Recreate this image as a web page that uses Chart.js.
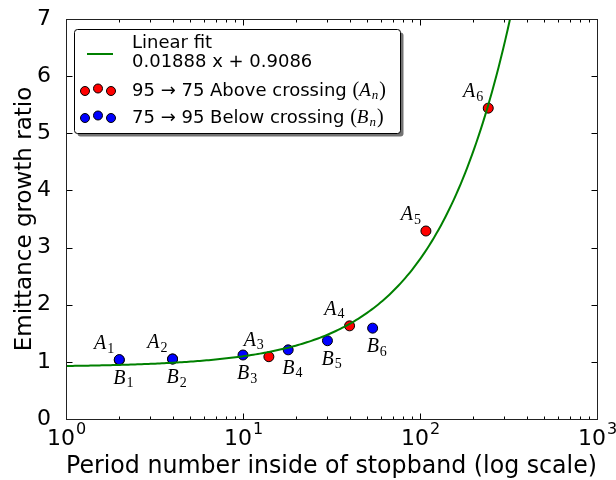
<!DOCTYPE html>
<html>
<head>
<meta charset="utf-8">
<script src="https://cdn.jsdelivr.net/npm/chart.js@4.4.1/dist/chart.umd.min.js"></script>
<style>
  html, body { margin: 0; padding: 0; background: #fff; }
</style>
</head>
<body>
<canvas id="myChart" width="616" height="480"></canvas>
<script>
// 95 -> 75, above crossing (A_n)
const aPeriods = [2, 4, 14, 40, 108, 243];
const aGrowth = [1.03, 1.05, 1.09, 1.63, 3.29, 5.44];
// 75 -> 95, below crossing (B_n)
const bPeriods = [2, 4, 10, 18, 30, 54];
const bGrowth = [1.04, 1.05, 1.12, 1.21, 1.37, 1.59];
// linear fit, as printed in the legend
const fitSlope = 0.01888;
const fitIntercept = 0.9086;
const xTickValues = [1, 10, 100, 1000];
const xTickExponents = ["0", "1", "2", "3"];
const yMin = 0;
const yMax = 7;

// evaluate the fit along the log axis so it bends like the original
const fitLine = [];
for (let i = 0; i <= 200; i++) {
  const x = Math.pow(10, (i / 200) * 2.52);
  fitLine.push({ x, y: fitSlope * x + fitIntercept });
}

const SANS = "'DejaVu Sans', sans-serif";
const SERIF = "'Liberation Serif', 'DejaVu Serif', serif";

// letter with a numeric/italic subscript, mathtext style
function drawSub(ctx, letter, sub, x, y, size, subItalic) {
  ctx.font = "italic " + size + "px " + SERIF;
  const w = ctx.measureText(letter).width;
  ctx.fillText(letter, x, y);
  ctx.font = (subItalic ? "italic " : "") + Math.round(size * 0.7) + "px " + SERIF;
  ctx.fillText(sub, x + w + 1, y + size * 0.18);
  return w + 1 + ctx.measureText(sub).width;
}
function subWidth(ctx, letter, sub, size) {
  ctx.font = "italic " + size + "px " + SERIF;
  const w = ctx.measureText(letter).width;
  ctx.font = Math.round(size * 0.7) + "px " + SERIF;
  return w + 1 + ctx.measureText(sub).width;
}

const pointTags = {
  id: "pointTags",
  afterDatasetsDraw(chart) {
    const ctx = chart.ctx;
    ctx.save();
    ctx.fillStyle = "#000";
    ctx.textBaseline = "alphabetic";
    ctx.textAlign = "left";
    chart.getDatasetMeta(2).data.forEach((pt, i) => {
      const w = subWidth(ctx, "A", String(i + 1), 20);
      drawSub(ctx, "A", String(i + 1), pt.x - 5 - w, pt.y - 11, 20);
    });
    chart.getDatasetMeta(1).data.forEach((pt, i) => {
      drawSub(ctx, "B", String(i + 1), pt.x - 6, pt.y + 24, 20);
    });
    ctx.restore();
  }
};

const frame = {
  id: "frame",
  afterDraw(chart) {
    const ctx = chart.ctx;
    const a = chart.chartArea;
    const xs = chart.scales.x, ys = chart.scales.y;
    const L = Math.round(a.left) + 0.5, R = Math.round(a.right) + 0.5;
    const T = Math.round(a.top) + 0.5, B = Math.round(a.bottom) + 0.5;
    ctx.save();
    ctx.strokeStyle = "#000";
    ctx.lineWidth = 1;
    ctx.beginPath();
    // inward ticks on all four sides
    for (let d = 0; d < 3; d++) {
      for (let k = 1; k <= 9; k++) {
        const px = Math.round(xs.getPixelForValue(k * Math.pow(10, d))) + 0.5;
        const len = k === 1 ? 6 : 3;
        ctx.moveTo(px, B); ctx.lineTo(px, B - len);
        ctx.moveTo(px, T); ctx.lineTo(px, T + len);
      }
    }
    for (let v = yMin; v <= yMax; v++) {
      const py = Math.round(ys.getPixelForValue(v)) + 0.5;
      ctx.moveTo(L, py); ctx.lineTo(L + 6, py);
      ctx.moveTo(R, py); ctx.lineTo(R - 6, py);
    }
    ctx.stroke();
    ctx.strokeStyle = "#222";
    ctx.strokeRect(L, T, R - L, B - T);

    // decade labels as 10^n
    ctx.fillStyle = "#000";
    ctx.textBaseline = "alphabetic";
    ctx.textAlign = "left";
    xTickValues.forEach((v, i) => {
      const px = xs.getPixelForValue(v);
      ctx.font = "22px " + SANS;
      const w1 = ctx.measureText("10").width;
      ctx.font = "16px " + SANS;
      const w2 = ctx.measureText(xTickExponents[i]).width;
      const x0 = px - (w1 + w2) / 2;
      ctx.font = "22px " + SANS;
      ctx.fillText("10", x0, 445);
      ctx.font = "16px " + SANS;
      ctx.fillText(xTickExponents[i], x0 + w1 + 1, 434);
    });

    // legend box with drop shadow
    const bx = 74.5, by = 29.5, bw = 326, bh = 104;
    ctx.fillStyle = "rgba(0,0,0,0.55)";
    ctx.beginPath();
    ctx.roundRect(bx + 3, by + 3, bw, bh, 3);
    ctx.fill();
    ctx.fillStyle = "#fff";
    ctx.strokeStyle = "#000";
    ctx.beginPath();
    ctx.roundRect(bx, by, bw, bh, 3);
    ctx.fill();
    ctx.stroke();

    ctx.strokeStyle = "#008000";
    ctx.lineWidth = 2;
    ctx.beginPath();
    ctx.moveTo(87, 54); ctx.lineTo(113, 54);
    ctx.stroke();

    const dots = (cy, color) => {
      [[85, 1], [98, -1.5], [111, 1]].forEach(([cx, dy]) => {
        ctx.beginPath();
        ctx.arc(cx, cy + dy, 4.5, 0, Math.PI * 2);
        ctx.fillStyle = color;
        ctx.fill();
        ctx.lineWidth = 1;
        ctx.strokeStyle = "#000";
        ctx.stroke();
      });
    };
    dots(90, "#ff0000");
    dots(117, "#0000ff");

    ctx.fillStyle = "#000";
    ctx.font = "18px " + SANS;
    ctx.fillText("Linear fit", 132, 48);
    ctx.fillText(fitSlope + " x + " + fitIntercept, 132, 67);
    const rows = [["95 \u2192 75 Above crossing ", "A", 96], ["75 \u2192 95 Below crossing ", "B", 123]];
    rows.forEach(([txt, letter, y]) => {
      ctx.font = "18px " + SANS;
      ctx.fillText(txt, 132, y);
      let x = 132 + ctx.measureText(txt).width;
      ctx.font = "20px " + SERIF;
      ctx.fillText("(", x, y);
      x += ctx.measureText("(").width;
      x += drawSub(ctx, letter, "n", x, y, 19, true) + 1;
      ctx.font = "20px " + SERIF;
      ctx.fillText(")", x, y);
    });
    ctx.restore();
  }
};

const chartCanvas = document.getElementById("myChart");
new Chart(chartCanvas, {
  type: "scatter",
  data: {
    datasets: [
      {
        label: "Linear fit",
        data: fitLine,
        borderColor: "#008000",
        borderWidth: 2,
        pointRadius: 0,
        showLine: true,
        order: 0
      },
      {
        label: "75 \u2192 95 Below crossing",
        data: bPeriods.map((x, i) => ({ x, y: bGrowth[i] })),
        backgroundColor: "#0000ff",
        borderColor: "#000",
        borderWidth: 1,
        pointRadius: 5,
        order: 1
      },
      {
        label: "95 \u2192 75 Above crossing",
        data: aPeriods.map((x, i) => ({ x, y: aGrowth[i] })),
        backgroundColor: "#ff0000",
        borderColor: "#000",
        borderWidth: 1,
        pointRadius: 5,
        order: 2
      }
    ]
  },
  options: {
    responsive: false,
    animation: false,
    devicePixelRatio: 1,
    layout: { padding: { top: 19, right: 19, left: 0, bottom: 0 } },
    plugins: { legend: { display: false }, tooltip: { enabled: false } },
    scales: {
      x: {
        type: "logarithmic",
        min: 1,
        max: 1000,
        grid: { display: false },
        border: { display: false },
        ticks: { display: false },
        title: {
          display: true,
          text: "Period number inside of stopband (log scale)",
          color: "#000",
          font: { family: SANS, size: 24.5 },
          padding: { top: 0, bottom: -1 }
        },
        afterFit(s) { s.height = 61; s.paddingLeft = 0; s.paddingRight = 0; }
      },
      y: {
        min: yMin,
        max: yMax,
        grid: { display: false },
        border: { display: false },
        ticks: { stepSize: 1, color: "#000", padding: 7, font: { family: SANS, size: 22 } },
        title: {
          display: true,
          text: "Emittance growth ratio",
          color: "#000",
          font: { family: SANS, size: 23 },
          padding: { top: 11, bottom: 0 }
        },
        afterFit(s) { s.width = 66; s.paddingTop = 0; s.paddingBottom = 0; }
      }
    }
  },
  plugins: [pointTags, frame]
});
</script>
</body>
</html>
